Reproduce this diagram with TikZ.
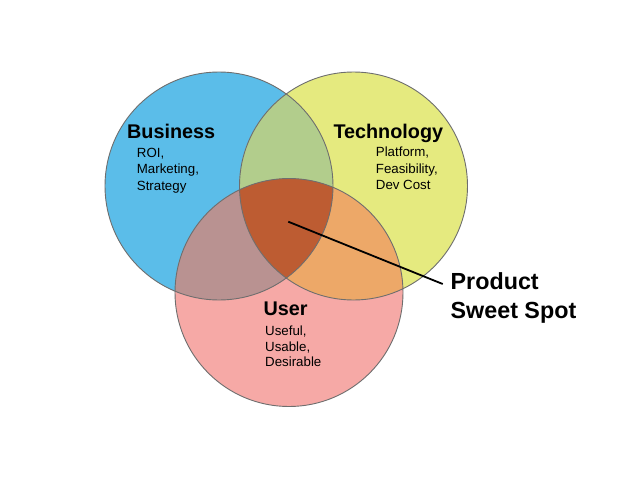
\documentclass[tikz,border=0pt]{standalone}
\usepackage{fontspec}
\setmainfont{Liberation Sans}
\definecolor{cblue}{HTML}{5BBDE9}
\definecolor{cyellow}{HTML}{E5EA7F}
\definecolor{cpink}{HTML}{F6A9A6}
\definecolor{cgreen}{HTML}{B2CD8C}
\definecolor{cmauve}{HTML}{B99291}
\definecolor{corange}{HTML}{EDA868}
\definecolor{cdark}{HTML}{BD5C32}
\definecolor{cedge}{HTML}{6E6E6E}
\begin{document}
\begin{tikzpicture}[x=1pt,y=-1pt,
  title/.style={anchor=base west,inner sep=0pt,font=\fontsize{19.8}{22}\selectfont\bfseries},
  sub/.style={anchor=base west,inner sep=0pt,font=\fontsize{13.3}{15}\selectfont},
  big/.style={anchor=base west,inner sep=0pt,font=\fontsize{23.3}{26}\selectfont\bfseries},
  ring/.style={draw=cedge,line width=0.9pt},
  pointer/.style={draw=black,line width=1.8pt}]
\useasboundingbox[fill=white] (0,0) rectangle (638,479);
\def\rr{114}
\coordinate (cb) at (219,186);
\coordinate (cy) at (353.5,186);
\coordinate (cp) at (289,292.5);
% base fills
\fill[cblue] (cb) circle[radius=\rr];
\fill[cyellow] (cy) circle[radius=\rr];
\fill[cpink] (cp) circle[radius=\rr];
% pairwise overlaps
\begin{scope}
  \clip (cb) circle[radius=\rr];
  \fill[cgreen] (cy) circle[radius=\rr];
\end{scope}
\begin{scope}
  \clip (cb) circle[radius=\rr];
  \fill[cmauve] (cp) circle[radius=\rr];
\end{scope}
\begin{scope}
  \clip (cy) circle[radius=\rr];
  \fill[corange] (cp) circle[radius=\rr];
\end{scope}
\begin{scope}
  \clip (cb) circle[radius=\rr];
  \clip (cy) circle[radius=\rr];
  \fill[cdark] (cp) circle[radius=\rr];
\end{scope}
% outlines
\draw[ring] (cb) circle[radius=\rr];
\draw[ring] (cy) circle[radius=\rr];
\draw[ring] (cp) circle[radius=\rr];
% texts
\node[title] (bus) at (127,138.3) {Business};
\node[sub] (bus1) at (136.7,157.3) {ROI,};
\node[sub] (bus2) at (136.7,173.8) {Marketing,};
\node[sub] (bus3) at (136.7,190.1) {Strategy};
\node[title] (tech) at (333.3,138.3) {Technology};
\node[sub] (tech1) at (375.7,156.9) {Platform,};
\node[sub] (tech2) at (375.7,173.3) {Feasibility,};
\node[sub] (tech3) at (375.7,189.5) {Dev Cost};
\node[title] (user) at (263.3,315) {User};
\node[sub] (user1) at (265,335) {Useful,};
\node[sub] (user2) at (265,351) {Usable,};
\node[sub] (user3) at (265,366.7) {Desirable};
\node[big] (prod1) at (450.5,289) {Product};
\node[big] (prod2) at (450.5,318) {Sweet Spot};
% pointer
\coordinate (spot) at (288.3,221.7);
\coordinate (tip) at (442.7,284);
\draw[pointer] (spot) -- (tip);
\end{tikzpicture}
\end{document}
